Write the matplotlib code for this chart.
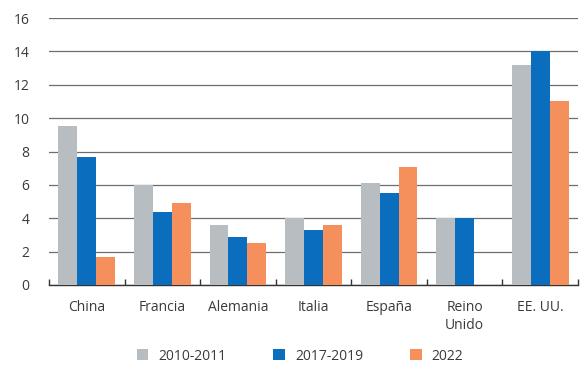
import numpy as np
import matplotlib
matplotlib.use("Agg")
import matplotlib.pyplot as plt

paises = ["China", "Francia", "Alemania", "Italia", "España", "Reino\nUnido", "EE. UU."]
periodos = ["2010-2011", "2017-2019", "2022"]
v_2010_2011 = [9.5, 6.0, 3.6, 4.0, 6.1, 4.0, 13.2]
v_2017_2019 = [7.7, 4.4, 2.9, 3.3, 5.5, 4.0, 14.0]
v_2022 = [1.7, 4.9, 2.5, 3.6, 7.1, np.nan, 11.0]
colores = ["#b8bdc1", "#0a6dbd", "#f58f5b"]

plt.rcParams["font.family"] = ["Open Sans", "DejaVu Sans"]
texto = "#3a3a3a"

fig = plt.figure(figsize=(5.82, 3.65), dpi=100)
ax = fig.add_axes([49 / 582, 1 - 285 / 365, 529 / 582, 267 / 365])

x = np.arange(len(paises))
ancho = 0.25
series = [v_2010_2011, v_2017_2019, v_2022]
for i, (vals, col, lab) in enumerate(zip(series, colores, periodos)):
    ax.bar(x + (i - 1) * ancho, vals, ancho, color=col, label=lab, zorder=3)

ax.set_xlim(-0.5, len(paises) - 0.5)
ax.set_ylim(0, 16)
ax.set_yticks(range(0, 17, 2))
ax.yaxis.grid(True, color="#6e6e6e", linewidth=0.9, zorder=0)
ax.set_axisbelow(True)

for s in ["top", "right", "left"]:
    ax.spines[s].set_visible(False)
ax.spines["bottom"].set_color("#333333")
ax.spines["bottom"].set_linewidth(1.0)

ax.set_xticks(x)
ax.set_xticklabels(paises, fontsize=10, color=texto, linespacing=1.25)
ax.tick_params(axis="x", length=0, pad=11)
ax.set_xticks(np.arange(-0.5, len(paises), 1), minor=True)
ax.tick_params(axis="x", which="minor", direction="in", length=4, width=1.0, color="#333333")
ax.tick_params(axis="y", length=0, pad=14, labelsize=10, labelcolor=texto)

fig.legend(loc="center", bbox_to_anchor=(300 / 582, 1 - 356 / 365), ncol=3,
           frameon=False, fontsize=10, handlelength=0.85, handleheight=0.85,
           handletextpad=0.7, columnspacing=3.4, labelcolor=texto)

fig.savefig("out.png", dpi=100)
